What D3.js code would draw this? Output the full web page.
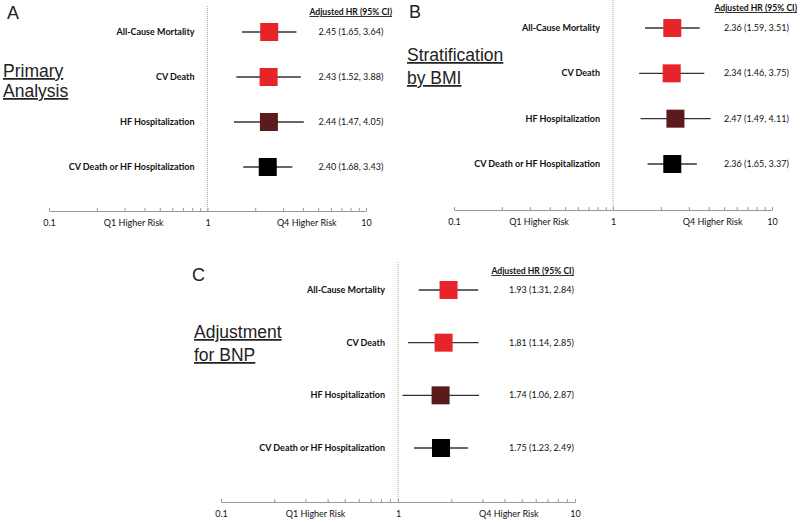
<!DOCTYPE html>
<html>
<head>
<meta charset="utf-8">
<script src="https://cdn.jsdelivr.net/npm/d3@7"></script>
<style>
  body { margin: 0; background: #fff; }
  svg { display: block; }
  .lbl { font-family: Lato, "Open Sans", sans-serif; font-weight: bold; font-size: 9px; fill: #111; }
  .head { font-family: Lato, "Open Sans", sans-serif; font-weight: bold; font-size: 8.6px; fill: #111; text-decoration: underline; }
  .val { font-family: Lato, "Open Sans", sans-serif; font-size: 9px; fill: #111; }
  .big { font-family: "Liberation Sans", Arial, sans-serif; font-size: 17.5px; fill: #222; text-decoration: underline; }
  .letter { font-family: "Liberation Sans", Arial, sans-serif; font-size: 18px; fill: #222; }
</style>
</head>
<body>
<svg width="800" height="522"></svg>
<script>
const outcomes = ["All-Cause Mortality", "CV Death", "HF Hospitalization", "CV Death or HF Hospitalization"];
const colors = ["#e8242b", "#e8242b", "#5a1b1d", "#000000"];

const hrA = [2.45, 2.43, 2.44, 2.40];
const loA = [1.65, 1.52, 1.47, 1.68];
const hiA = [3.64, 3.88, 4.05, 3.43];

const hrB = [2.36, 2.34, 2.47, 2.36];
const loB = [1.59, 1.46, 1.49, 1.65];
const hiB = [3.51, 3.75, 4.11, 3.37];

const hrC = [1.93, 1.81, 1.74, 1.75];
const loC = [1.31, 1.14, 1.06, 1.23];
const hiC = [2.84, 2.85, 2.87, 2.49];

const tickValues = [0.1, 0.34, 1, 4.2, 10];
const tickLabels = ["0.1", "Q1 Higher Risk", "1", "Q4 Higher Risk", "10"];
const minorTicks = [0.1, 0.2, 0.3, 0.4, 0.5, 0.6, 0.7, 0.8, 0.9, 1, 2, 3, 4, 5, 6, 7, 8, 9, 10];

const svg = d3.select("svg");

const panels = [
  { letter: "A", title: ["Primary", "Analysis"], hr: hrA, lo: loA, hi: hiA,
    x0: 49, x1: 366, yTop: 32, yBot: 167, axisY: 211, refTop: 6,
    letterPos: [7, 19], titlePos: [3, 77, 20], head: [392, 15] },
  { letter: "B", title: ["Stratification", "by BMI"], hr: hrB, lo: loB, hi: hiB,
    x0: 454, x1: 772, yTop: 28, yBot: 164, axisY: 210, refTop: 0,
    letterPos: [409, 18], titlePos: [407, 61, 23], head: [797, 11] },
  { letter: "C", title: ["Adjustment", "for BNP"], hr: hrC, lo: loC, hi: hiC,
    x0: 221, x1: 575, yTop: 290, yBot: 448, axisY: 502, refTop: 262,
    letterPos: [192, 281], titlePos: [194, 338, 23], head: [574, 274] }
];

panels.forEach(p => {
  const g = svg.append("g");

  const x = d3.scaleLog().domain([0.1, 10]).range([p.x0, p.x1]);
  const y = d3.scalePoint().domain(outcomes).range([p.yTop, p.yBot]);

  // reference line at 1
  g.append("line")
    .attr("x1", x(1)).attr("x2", x(1))
    .attr("y1", p.refTop).attr("y2", p.axisY)
    .attr("stroke", "#aaa").attr("stroke-width", 1)
    .attr("stroke-dasharray", "1,1");

  // axis with minor ticks
  const minor = g.append("g")
    .attr("transform", `translate(0,${p.axisY})`)
    .call(d3.axisBottom(x).tickValues(minorTicks).tickSizeInner(-3).tickSizeOuter(0).tickFormat(""));
  minor.select(".domain").attr("stroke", "#999");
  minor.selectAll(".tick line").attr("stroke", "#999");

  const labels = g.append("g")
    .attr("transform", `translate(0,${p.axisY})`)
    .call(d3.axisBottom(x).tickValues(tickValues).tickSize(0).tickPadding(9)
      .tickFormat((d, i) => tickLabels[i]));
  labels.select(".domain").remove();
  labels.selectAll("text").attr("font-family", "Lato, 'Open Sans', sans-serif")
    .attr("font-size", 9).attr("fill", "#111");

  // rows
  const rows = g.selectAll(".row").data(outcomes).join("g").attr("class", "row");

  rows.append("line")
    .attr("x1", (d, i) => x(p.lo[i])).attr("x2", (d, i) => x(p.hi[i]))
    .attr("y1", d => y(d)).attr("y2", d => y(d))
    .attr("stroke", "#333").attr("stroke-width", 1.3);

  const sq = 18;
  rows.append("rect")
    .attr("x", (d, i) => x(p.hr[i]) - sq / 2)
    .attr("y", d => y(d) - sq / 2)
    .attr("width", sq).attr("height", sq)
    .attr("fill", (d, i) => colors[i]);

  rows.append("text").attr("class", "lbl")
    .attr("x", x(1) - 13).attr("y", d => y(d) + 3)
    .attr("text-anchor", "end")
    .text(d => d);

  rows.append("text").attr("class", "val")
    .attr("x", x(1) + 111).attr("y", d => y(d) + 3)
    .text((d, i) => `${p.hr[i].toFixed(2)} (${p.lo[i].toFixed(2)}, ${p.hi[i].toFixed(2)})`);

  // header
  g.append("text").attr("class", "head")
    .attr("x", p.head[0]).attr("y", p.head[1])
    .attr("text-anchor", "end")
    .text("Adjusted HR (95% CI)");

  g.append("text").attr("class", "letter")
    .attr("x", p.letterPos[0]).attr("y", p.letterPos[1])
    .text(p.letter);

  p.title.forEach((t, i) => {
    g.append("text").attr("class", "big")
      .attr("x", p.titlePos[0]).attr("y", p.titlePos[1] + i * p.titlePos[2])
      .text(t);
  });
});
</script>
</body>
</html>
